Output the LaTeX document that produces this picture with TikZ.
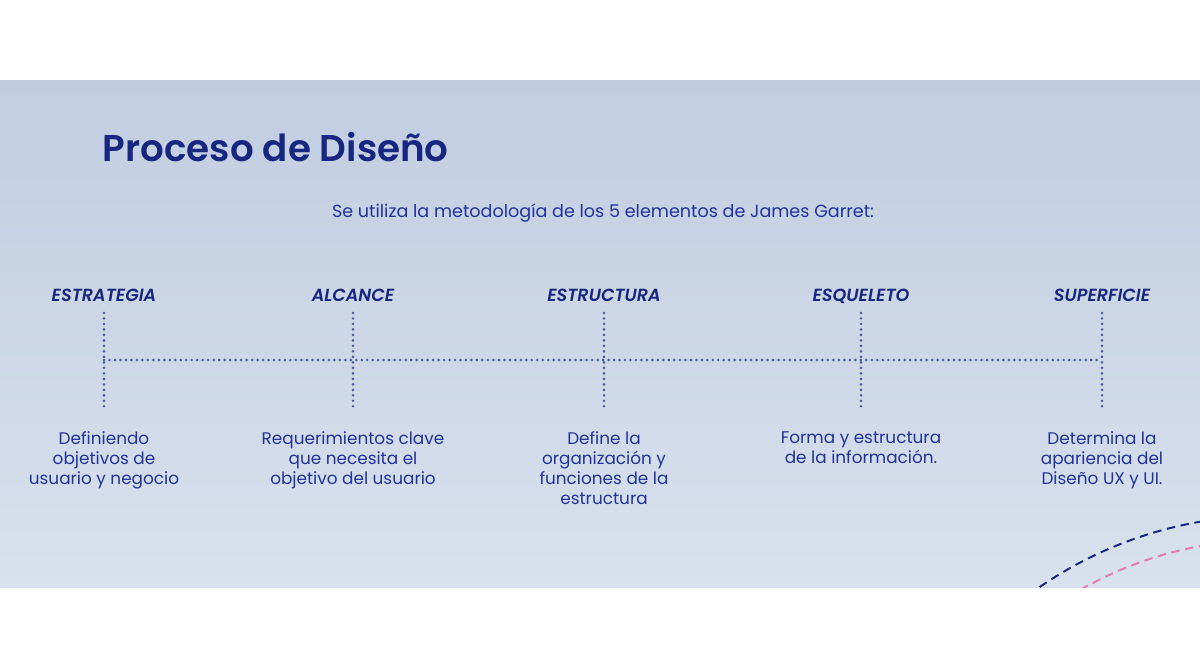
\documentclass[tikz,border=0pt]{standalone}
\usepackage{fontspec}
\setmainfont{Poppins}
\newfontfamily\stagefont{Poppins SemiBold Italic}
\newfontfamily\headfont{Poppins SemiBold}
\usetikzlibrary{positioning}
\definecolor{navy}{HTML}{17267F}
\definecolor{textblue}{HTML}{22339A}
\definecolor{dotblue}{HTML}{4A5C9E}
\definecolor{panelTop}{HTML}{C1CDE1}
\definecolor{panelBot}{HTML}{D8E1ED}
\definecolor{pinkdash}{HTML}{E27BB0}
\tikzset{
    heading/.style={font=\headfont\fontsize{26.5}{30}\selectfont,text=navy},
    stage/.style={font=\stagefont\fontsize{12.5}{14}\selectfont,text=navy,anchor=base},
    descr/.style={font=\fontsize{12}{14.2}\selectfont,text=textblue,align=center,inner sep=0pt},
    dots/.style={dotblue,line width=2.1pt,line cap=round,dash pattern=on 0pt off 3.9pt},
    arcline/.style={line width=1.4pt,dash pattern=on 6pt off 4pt}
}

\begin{document}
\begin{tikzpicture}[x=0.025cm,y=-0.025cm]
\useasboundingbox(0,0)rectangle(1200,667);
\fill[white](0,0)rectangle(1200,667);
\shade[top color=panelTop,bottom color=panelBot](0,80)rectangle(1200,587);
\begin{scope}
    \clip(0,80)rectangle(1200,587);
    \draw[arcline,navy](1269,921)circle[radius=10.125cm];
    \draw[arcline,pinkdash](1269,921)circle[radius=9.525cm];
\end{scope}

\node[heading,anchor=west](title)at(98,147){Proceso de Diseño};
\node[font=\fontsize{12.5}{16}\selectfont,text=textblue](intro)at(603,213)
    {Se utiliza la metodología de los 5 elementos de James Garret:};

\foreach \x/\name/\txt in {104/estrategia/ESTRATEGIA,353/alcance/ALCANCE,
    604/estructura/ESTRUCTURA,861/esqueleto/ESQUELETO,1102/superficie/SUPERFICIE}
    {\node[stage](\name)at(\x,301){\txt};
     \coordinate(\name-top)at(\x,313);
     \coordinate(\name-mid)at(\x,360);
     \coordinate(\name-bot)at(\x,411);
     \draw[dots](\name-top)--(\name-bot);
    }
\draw[dots](estrategia-mid)--(superficie-mid);

\node[descr,below=0.5cm of estrategia-bot](estrategia-txt){Definiendo\\objetivos de\\usuario y negocio};
\node[descr,below=0.5cm of alcance-bot](alcance-txt){Requerimientos clave\\que necesita el\\objetivo del usuario};
\node[descr,below=0.5cm of estructura-bot](estructura-txt){Define la\\organización y\\funciones de la\\estructura};
\node[descr,below=0.5cm of esqueleto-bot](esqueleto-txt){Forma y estructura\\de la información.};
\node[descr,below=0.5cm of superficie-bot](superficie-txt){Determina la\\apariencia del\\Diseño UX y UI.};
\end{tikzpicture}
\end{document}
